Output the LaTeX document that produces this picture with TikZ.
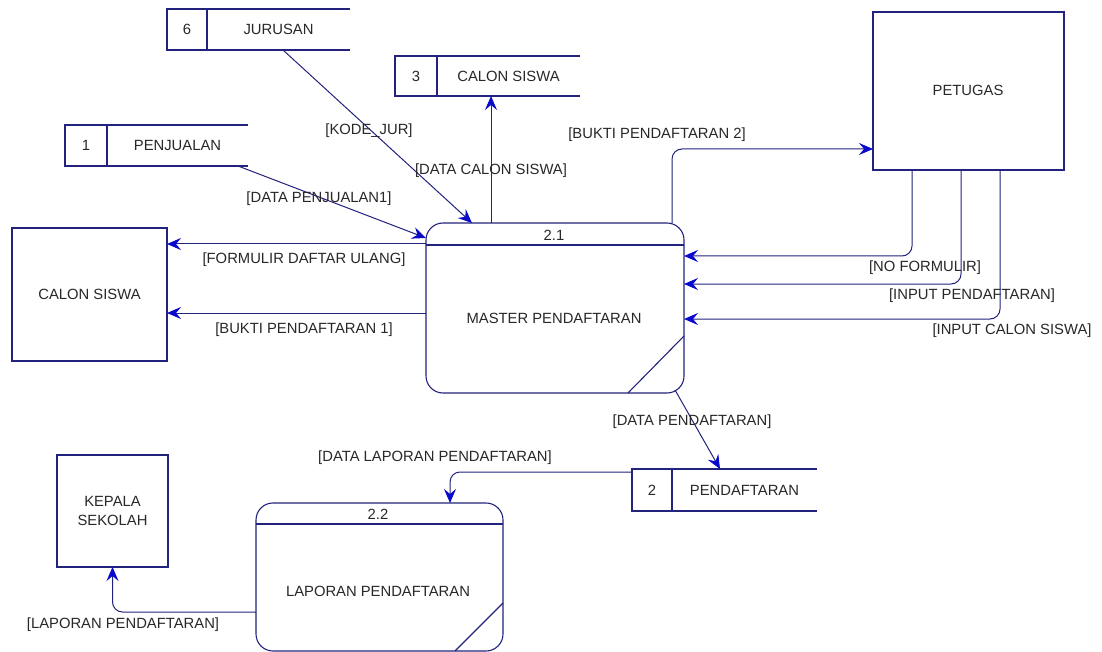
\documentclass[tikz,border=0pt]{standalone}
\usepackage{fontspec}
\setmainfont{Liberation Sans}
\usetikzlibrary{arrows.meta}
\definecolor{ln}{RGB}{35,35,125}
\definecolor{tipc}{RGB}{10,10,205}
\definecolor{txt}{RGB}{40,40,40}
\begin{document}
\begin{tikzpicture}[x=1pt,y=-1pt,
  every node/.style={font=\fontsize{14.8}{18}\selectfont, text=txt, inner sep=0pt, outer sep=0pt},
  ent/.style={draw=ln, line width=1.1pt},
  proc/.style={draw=ln, line width=1.1pt, rounded corners=17pt},
  cell/.style={minimum height=41pt},
  sline/.style={draw=ln, line width=1.1pt},
  flow/.style={draw=ln, line width=1pt, rounded corners=10pt,
    -{Stealth[length=14pt,width=12pt,inset=5pt,color=tipc]}},
  lbl/.style={}]
\useasboundingbox (0,0) rectangle (1102,652);
\fill[white] (0,0) rectangle (1102,652);

% external entities
\node[ent, minimum width=155pt, minimum height=133pt] (cs) at (89.5,294.5) {CALON SISWA};
\node[ent, minimum width=191pt, minimum height=158pt] (pet) at (968.5,91) {};
\node at (968,90) {PETUGAS};
\node[ent, minimum width=111pt, minimum height=112pt, align=center] (kep) at (112.5,511) {KEPALA\\[1pt]SEKOLAH};

% processes
\node[proc, minimum width=258pt, minimum height=170pt] (p1) at (555,308) {};
\draw[sline] ([yshift=-22]p1.north west) -- ([yshift=-22]p1.north east);
\draw[sline] ([xshift=-56]p1.south east) -- ([yshift=57]p1.south east);
\node at (554,235) {2.1};
\node at (554,318) {MASTER PENDAFTARAN};

\node[proc, minimum width=247pt, minimum height=148pt] (p2) at (379.5,577) {};
\draw[sline] ([yshift=-21]p2.north west) -- ([yshift=-21]p2.north east);
\draw[sline] ([xshift=-48]p2.south east) -- ([yshift=48]p2.south east);
\node at (378,514) {2.2};
\node at (378,591) {LAPORAN PENDAFTARAN};

% data stores
\node[cell, minimum width=40pt] (s6n) at (187,29.5) {6};
\node[cell, minimum width=143pt, anchor=west] (s6) at (s6n.east) {JURUSAN};
\draw[sline] (s6.north east) -- (s6n.north west) -- (s6n.south west) -- (s6.south east);
\draw[sline] (s6n.north east) -- (s6n.south east);

\node[cell, minimum width=42pt, minimum height=40pt] (s3n) at (416,76) {3};
\node[cell, minimum width=143pt, minimum height=40pt, anchor=west] (s3) at (s3n.east) {CALON SISWA};
\draw[sline] (s3.north east) -- (s3n.north west) -- (s3n.south west) -- (s3.south east);
\draw[sline] (s3n.north east) -- (s3n.south east);

\node[cell, minimum width=42pt] (s1n) at (86,145.5) {1};
\node[cell, minimum width=141pt, anchor=west] (s1) at (s1n.east) {PENJUALAN};
\draw[sline] (s1.north east) -- (s1n.north west) -- (s1n.south west) -- (s1.south east);
\draw[sline] (s1n.north east) -- (s1n.south east);

\node[cell, minimum width=40pt, minimum height=42pt] (s2n) at (652,490) {2};
\node[cell, minimum width=145pt, minimum height=42pt, anchor=west] (s2) at (s2n.east) {PENDAFTARAN};
\draw[sline] (s2.north east) -- (s2n.north west) -- (s2n.south west) -- (s2.south east);
\draw[sline] (s2n.north east) -- (s2n.south east);

% flows
\draw[flow] ([xshift=76]s6.south west) -- ([xshift=46]p1.north west);
\node[lbl] at (369,131) {[KODE\_JUR]};

\draw[flow] ([xshift=65]p1.north west) -- ([xshift=54]s3.south west);
\node[lbl] at (491,171) {[DATA CALON SISWA]};

\draw[flow] ([xshift=-10]s1.south east) -- ([yshift=-15]p1.north west);
\node[lbl] at (319,199) {[DATA PENJUALAN1]};

\draw[flow] ([xshift=-12]p1.north east) |- ([yshift=21]pet.south west);
\node[lbl] at (657,135) {[BUKTI PENDAFTARAN 2]};

\draw[flow] ([xshift=39]pet.south west) |- ([yshift=-33]p1.north east);
\node[lbl] at (925,268) {[NO FORMULIR]};
\draw[flow] ([xshift=88]pet.south west) |- ([yshift=-61]p1.north east);
\node[lbl] at (972,296) {[INPUT PENDAFTARAN]};
\draw[flow] ([xshift=127]pet.south west) |- ([yshift=-96]p1.north east);
\node[lbl] at (1012,331) {[INPUT CALON SISWA]};

\draw[flow] ([yshift=-21]p1.north west) coordinate (f8) -- (cs.east |- f8);
\node[lbl] at (304,260) {[FORMULIR DAFTAR ULANG]};
\draw[flow] ([yshift=-90]p1.north west) coordinate (f9) -- (cs.east |- f9);
\node[lbl] at (304,330) {[BUKTI PENDAFTARAN 1]};

\draw[flow] ([xshift=-9,yshift=3]p1.south east) -- ([xshift=48]s2.north west);
\node[lbl] at (692,422) {[DATA PENDAFTARAN]};

\draw[flow] ([yshift=-3]s2n.north west) -| ([xshift=194]p2.north west);
\node[lbl] at (435,458) {[DATA LAPORAN PENDAFTARAN]};

\draw[flow] ([yshift=-109]p2.north west) -| (kep.south);
\node[lbl] at (123,625) {[LAPORAN PENDAFTARAN]};
\end{tikzpicture}
\end{document}
